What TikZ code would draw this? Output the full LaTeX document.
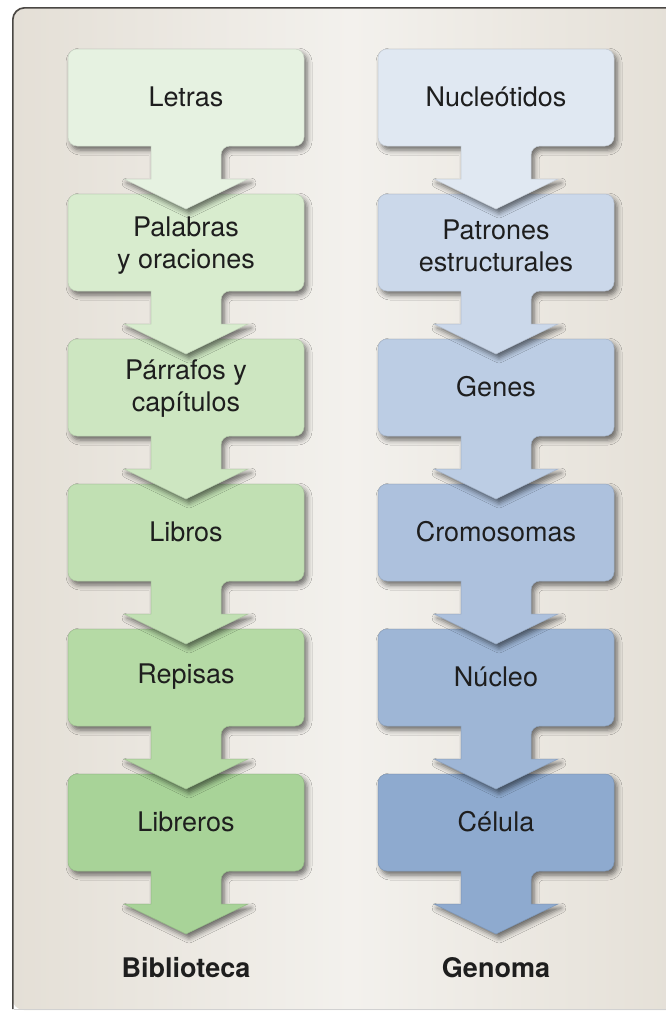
\documentclass[tikz,border=0pt]{standalone}
\usepackage{fontspec}
\setmainfont{TeX Gyre Heros}
\usetikzlibrary{calc,shadows.blur}

\definecolor{panelside}{HTML}{E4DFD6}
\definecolor{panelmid}{HTML}{F3F1ED}
\definecolor{panelrim}{HTML}{4A4744}
\definecolor{textgray}{HTML}{1E1E1E}
% green column (library)
\definecolor{gA}{HTML}{E6F2E1}
\definecolor{gB}{HTML}{D8ECCE}
\definecolor{gC}{HTML}{CDE6C1}
\definecolor{gD}{HTML}{C1E0B3}
\definecolor{gE}{HTML}{B5DAA5}
\definecolor{gF}{HTML}{A8D398}
% blue column (genome)
\definecolor{bA}{HTML}{E0E8F2}
\definecolor{bB}{HTML}{CBD8EA}
\definecolor{bC}{HTML}{BCCDE4}
\definecolor{bD}{HTML}{ADC1DD}
\definecolor{bE}{HTML}{9EB6D6}
\definecolor{bF}{HTML}{8EAACF}

\tikzset{
  stepshape/.style={draw=#1!88!black, line width=0.5pt, fill=#1,
    blur shadow={shadow xshift=3pt, shadow yshift=-4pt,
                 shadow blur radius=5pt, shadow opacity=55}},
  steplabel/.style={font=\fontsize{27}{32}\selectfont, text=textgray, align=center},
  footlabel/.style={font=\fontsize{27}{32}\selectfont\bfseries, text=textgray},
}

% rounded box with a broad arrow hanging from its lower edge
\newcommand\flowstep[2]{%
  \path[stepshape=#2, rounded corners=9pt]
    ($(#1)+(-118,-48)$) -- ($(#1)+(118,-48)$) -- ($(#1)+(118,49)$)
    -- ($(#1)+(35,49)$) [sharp corners]
    -- ($(#1)+(35,82)$) -- ($(#1)+(62,82)$) -- ($(#1)+(0,112)$)
    -- ($(#1)+(-62,82)$) -- ($(#1)+(-35,82)$) -- ($(#1)+(-35,49)$)
    [rounded corners=9pt] -- ($(#1)+(-118,49)$) -- cycle;
}

\begin{document}
\begin{tikzpicture}[x=1pt, y=-1pt]
  \useasboundingbox (0,0) rectangle (665,1017);
  \fill[white] (0,0) rectangle (665,1017);

  % panel
  \shade[rounded corners=12pt, left color=panelside, right color=panelside,
         middle color=panelmid] (12,7) rectangle (690,1010);
  \draw[panelrim, line width=1.6pt, rounded corners=12pt]
    (12.8,1009) -- (12.8,7.8) -- (690,7.8);
  \draw[black!18, line width=0.8pt] (14,1009.5) -- (690,1009.5);

  % step centres
  \foreach \i in {1,...,6} {
    \coordinate (L\i) at (186, {97+145*(\i-1)});
    \coordinate (R\i) at (496, {97+145*(\i-1)});
  }

  % shapes, lowest first so each arrow lies over the box below it
  \flowstep{L6}{gF} \flowstep{R6}{bF}
  \flowstep{L5}{gE} \flowstep{R5}{bE}
  \flowstep{L4}{gD} \flowstep{R4}{bD}
  \flowstep{L3}{gC} \flowstep{R3}{bC}
  \flowstep{L2}{gB} \flowstep{R2}{bB}
  \flowstep{L1}{gA} \flowstep{R1}{bA}

  % labels
  \node[steplabel] (l1) at (L1) {Letras};
  \node[steplabel] (l2) at ($(L2)+(0,4)$) {Palabras\\y oraciones};
  \node[steplabel] (l3) at ($(L3)+(0,2)$) {Párrafos y\\capítulos};
  \node[steplabel] (l4) at (L4) {Libros};
  \node[steplabel] (l5) at (L5) {Repisas};
  \node[steplabel] (l6) at (L6) {Libreros};

  \node[steplabel] (r1) at (R1) {Nucleótidos};
  \node[steplabel] (r2) at ($(R2)+(0,4)$) {Patrones\\estructurales};
  \node[steplabel] (r3) at (R3) {Genes};
  \node[steplabel] (r4) at (R4) {Cromosomas};
  \node[steplabel] (r5) at (R5) {Núcleo};
  \node[steplabel] (r6) at (R6) {Célula};

  \node[footlabel] (lib) at (186,968) {Biblioteca};
  \node[footlabel] (gen) at (496,968) {Genoma};
\end{tikzpicture}
\end{document}
